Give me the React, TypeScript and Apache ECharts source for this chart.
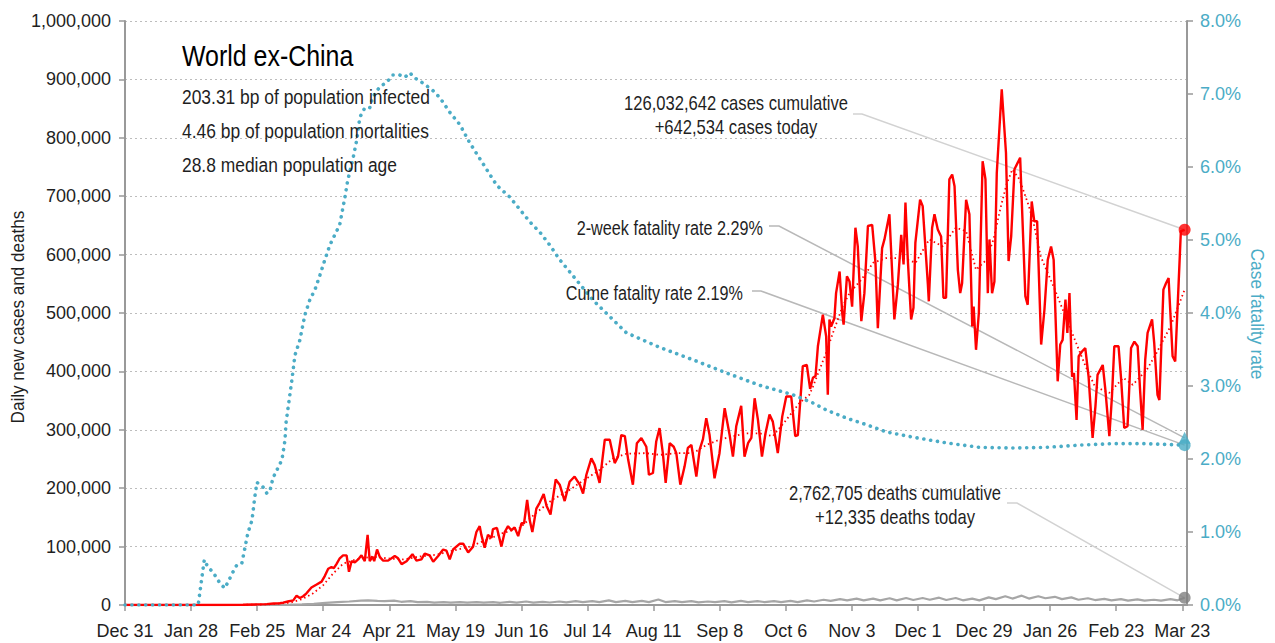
import React, { useEffect, useRef } from "react";
import * as echarts from "echarts";

// Day 0 = Dec 31, 2019
const xTickLabels = ["Dec 31", "Jan 28", "Feb 25", "Mar 24", "Apr 21", "May 19", "Jun 16", "Jul 14", "Aug 11", "Sep 8", "Oct 6", "Nov 3", "Dec 1", "Dec 29", "Jan 26", "Feb 23", "Mar 23"];
const xTickDays = [0, 28, 56, 84, 112, 140, 168, 196, 224, 252, 280, 308, 336, 364, 392, 420, 448];

// Daily new cases [day, cases]
const dailyCases: number[][] = [
  [0, 0], [20, 0], [40, 0], [50, 500], [56, 1000], [60, 1500], [63, 2500], [65.6, 3000], [67, 4000], [69, 6000],
  [71.3, 8000], [72.7, 16000], [74.1, 12000], [75.5, 15000], [76.9, 20000], [79, 30000], [81.2, 35000], [83.3, 40000],
  [84.7, 50000], [86.1, 62000], [87.5, 65000], [88.5, 63000], [89.6, 70000], [91, 80000], [92.4, 85000], [93.9, 85000],
  [94.9, 57000], [96, 75000], [97.4, 73000], [98.8, 78000], [100.2, 85000], [101.6, 75000], [102.8, 120000], [103.7, 75000],
  [104.9, 83000], [105.6, 75000], [106.8, 95000], [108, 82000], [109.4, 76000], [111.5, 76000], [114.3, 84000], [115.7, 80000],
  [117.2, 70000], [119.3, 75000], [121.8, 87000], [123.5, 76000], [125.6, 78000], [127, 88000], [129.1, 85000], [130.6, 74000],
  [132.7, 84000], [134.8, 95000], [136.2, 93000], [137.6, 78000], [139, 95000], [141.9, 105000], [143.3, 105000], [145.4, 90000],
  [147.5, 100000], [148.9, 125000], [150.3, 135000], [151, 120000], [152.4, 98000], [153.8, 120000], [155.3, 115000], [155.9, 130000],
  [157.6, 132000], [159.5, 100000], [160.9, 125000], [162.3, 135000], [163.7, 128000], [165.1, 133000], [166.6, 118000], [168, 140000],
  [169.1, 140000], [170.4, 180000], [171.5, 145000], [172.6, 125000], [174.3, 165000], [175.7, 175000], [177.4, 190000], [178.6, 170000],
  [180.3, 155000], [182.5, 215000], [184.2, 206000], [186.3, 178000], [188.4, 211000], [190.5, 220000], [192.7, 206000], [194.1, 191000],
  [195.5, 223000], [197.6, 251000], [199, 240000], [201.1, 209000], [203.3, 283000], [205.4, 283000], [207.5, 243000], [208.9, 254000],
  [210.3, 291000], [211.8, 289000], [213.2, 249000], [215.2, 206000], [216.9, 277000], [218.8, 286000], [220.9, 271000], [222, 223000],
  [223.7, 226000], [225.1, 280000], [226.5, 303000], [227.9, 260000], [229.1, 209000], [230.8, 277000], [232.5, 271000], [233.6, 260000],
  [235.3, 206000], [237.1, 237000], [238.5, 269000], [240, 274000], [242.1, 220000], [243.5, 266000], [244.9, 284000], [246.3, 320000],
  [247.7, 291000], [249.8, 217000], [251.9, 260000], [254.1, 337000], [256.2, 291000], [257.6, 254000], [259, 306000], [261.1, 341000],
  [262.5, 254000], [264, 277000], [265.4, 286000], [266.8, 354000], [268.2, 317000], [269.9, 254000], [271.4, 294000], [273.1, 326000],
  [274.5, 314000], [276.6, 260000], [278.5, 323000], [280.2, 357000], [282.3, 357000], [284, 289000], [285.1, 291000], [287.2, 409000],
  [288.9, 411000], [290.3, 370000], [291.5, 389000], [292.6, 392000], [293.6, 443000], [295.7, 497000], [297.1, 460000], [297.8, 360000],
  [298.5, 489000], [299.2, 477000], [300.6, 491000], [301.3, 534000], [302.8, 571000], [303.9, 500000], [304.5, 480000], [305.9, 563000],
  [307, 554000], [308.1, 511000], [309.5, 646000], [310.5, 614000], [312, 486000], [313.3, 534000], [314.8, 649000], [316.6, 651000],
  [318, 586000], [319, 474000], [320.8, 611000], [321.8, 626000], [323.9, 669000], [326, 489000], [327.5, 549000], [328.9, 634000],
  [329.9, 583000], [330.7, 689000], [331.7, 591000], [333.1, 489000], [334.1, 509000], [334.9, 620000], [336.9, 694000], [338, 683000],
  [340.2, 549000], [340.6, 520000], [342, 646000], [343, 669000], [344.4, 643000], [345.8, 631000], [346.8, 526000], [347.9, 526000],
  [349.3, 729000], [350.5, 737000], [351.5, 717000], [352.9, 574000], [353.9, 534000], [354.7, 551000], [356.4, 694000], [357.8, 669000],
  [359, 477000], [359.6, 511000], [360.6, 437000], [361.8, 500000], [363.4, 760000], [364.6, 729000], [365.6, 534000], [366.3, 626000],
  [367.4, 534000], [368.4, 554000], [369.4, 740000], [371.5, 883000], [373.3, 774000], [374.4, 589000], [375.5, 631000], [376.9, 746000],
  [379.3, 766000], [381.5, 529000], [382.5, 514000], [384.2, 691000], [385.3, 657000], [386.5, 657000], [388.2, 446000], [389.6, 506000],
  [391, 591000], [392.4, 614000], [393.5, 591000], [395.2, 383000], [396.3, 446000], [397.3, 454000], [398.5, 523000], [399.3, 466000],
  [400.2, 534000], [401.3, 391000], [402.1, 397000], [403.2, 317000], [404.1, 426000], [405.5, 434000], [406.9, 440000], [408.3, 391000],
  [410, 286000], [411.2, 340000], [412.1, 394000], [414.3, 411000], [415.4, 369000], [417.1, 289000], [418.2, 357000], [419.2, 443000],
  [421, 443000], [422.1, 386000], [423.4, 303000], [424.8, 306000], [426.3, 440000], [427.7, 451000], [429.1, 443000], [430.1, 369000],
  [431.2, 300000], [432.3, 420000], [433.3, 466000], [435.2, 489000], [436.1, 449000], [437.5, 360000], [438.3, 351000], [440, 540000],
  [441.1, 551000], [442.2, 560000], [443.9, 426000], [445, 417000], [446.4, 546000], [447.4, 640000], [449, 642534],
];

// 7-day average cases [day, cases]
const avgCases: number[][] = [
  [0, 0], [50, 300], [60, 1000], [70, 4000], [75, 10000], [79.7, 20000], [84, 34000], [88.2, 54000], [92.5, 71000], [98, 78000],
  [105, 83000], [110.7, 80000], [117.8, 78000], [124.8, 83000], [131.9, 86000], [138.9, 93000], [146, 100000], [153, 111000],
  [160, 123000], [167, 131000], [174, 157000], [181, 180000], [188, 196000], [192.7, 209000], [201, 231000], [206.8, 251000],
  [212.5, 259000], [221, 260000], [226.5, 257000], [233.6, 260000], [240.7, 260000], [246.3, 274000], [251.9, 283000], [257.6, 289000],
  [263.3, 294000], [268.9, 294000], [274.5, 289000], [280.2, 317000], [285.8, 346000], [290, 360000], [291.5, 374000], [294.3, 403000],
  [297, 431000], [300, 466000], [304, 511000], [307, 534000], [312, 557000], [317, 586000], [322.5, 594000], [329.5, 594000],
  [335, 586000], [340.8, 626000], [346.5, 614000], [352, 646000], [356.4, 640000], [360.6, 574000], [365, 591000], [368, 626000],
  [371, 680000], [373.5, 720000], [376, 746000], [379, 729000], [383, 683000], [385, 654000], [388, 597000], [394, 540000],
  [398.5, 494000], [403, 449000], [407, 409000], [411, 374000], [417, 363000], [423, 389000], [427, 377000], [433, 403000],
  [437, 431000], [443, 477000], [449, 540000],
];

// Daily deaths [day, deaths]
const dailyDeaths: number[][] = [
  [0, 0], [50, 0], [60, 100], [70, 500], [75, 1000], [80, 2000], [85, 3500], [90, 5000], [95, 6000], [100, 7500], [103, 8000],
  [107, 7000], [110, 6500], [114, 7500], [117, 5500], [121, 6500], [124, 5000], [128, 5500], [131, 4000], [135, 5000], [138, 4000],
  [142, 5000], [145, 4200], [149, 5000], [152, 4000], [156, 5000], [159, 3800], [163, 5500], [166, 4000], [170, 6000], [173, 4200],
  [177, 5500], [180, 4300], [184, 6000], [187, 4500], [191, 6500], [194, 5000], [198, 6500], [201, 5000], [205, 8000], [208, 5000],
  [212, 7000], [215, 5000], [219, 7000], [222, 5000], [226, 9500], [229, 5000], [233, 6500], [236, 5000], [240, 6500], [243, 4500],
  [247, 6000], [250, 5000], [254, 6500], [257, 4500], [261, 7000], [264, 5000], [268, 6500], [271, 5000], [275, 6500], [278, 5000],
  [282, 7000], [285, 5000], [289, 8000], [292, 6000], [296, 9000], [299, 7000], [303, 10000], [306, 8000], [310, 11000], [313, 8000],
  [317, 11000], [320, 8000], [324, 11500], [327, 8000], [331, 12000], [334, 8500], [338, 12000], [341, 9000], [345, 12500], [348, 8500],
  [352, 12000], [355, 8000], [359, 11000], [362, 8000], [366, 13000], [369, 10000], [373, 15000], [376, 11000], [380, 16000], [383, 11000],
  [387, 15000], [390, 11500], [394, 14000], [397, 10000], [401, 13000], [404, 9000], [408, 11500], [411, 8500], [415, 10500], [418, 8000],
  [422, 10000], [425, 7500], [429, 9500], [432, 7500], [436, 9000], [439, 7500], [443, 10000], [446, 8000], [449, 12335],
];

// Case fatality rate (%) [day, pct]
const fatalityRate: number[][] = [
  [0, 0], [31, 0], [33.6, 0.62], [35.1, 0.52], [37.3, 0.45], [40.2, 0.3], [42.3, 0.23], [44.5, 0.37], [45.7, 0.45], [47.4, 0.55],
  [49.5, 0.57], [50.8, 0.78], [52.1, 0.99], [53.8, 1.16], [55, 1.48], [55.9, 1.68], [58.4, 1.62], [60.1, 1.53], [61.4, 1.56],
  [62.7, 1.74], [64.4, 1.85], [66.5, 1.99], [67.8, 2.26], [68.2, 2.49], [70.7, 3.08], [72, 3.42], [74.1, 3.63], [76.2, 3.97],
  [78.3, 4.18], [80.5, 4.32], [82.6, 4.52], [84.7, 4.73], [86.8, 4.93], [91, 5.21], [93.2, 5.59], [94.4, 5.82], [96.5, 6.1],
  [98.2, 6.37], [99.5, 6.68], [101.6, 6.81], [103.7, 6.81], [105, 6.96], [108, 7.1], [110.9, 7.16], [113.5, 7.26], [116.4, 7.26],
  [118.6, 7.23], [120.7, 7.29], [122.8, 7.22], [126.2, 7.15], [130.4, 7.05], [133.4, 6.95], [137.6, 6.75], [141.9, 6.58],
  [146.1, 6.33], [151.6, 6.05], [157.5, 5.75], [163, 5.59], [168.5, 5.37], [171.5, 5.25], [175.7, 5.11], [180, 4.93], [184.2, 4.73],
  [198.2, 4.18], [212.4, 3.73], [226.5, 3.53], [240.6, 3.36], [254.8, 3.18], [268.9, 3.01], [283, 2.88], [291.3, 2.77], [297.3, 2.67],
  [305.7, 2.56], [314.2, 2.47], [322.7, 2.37], [333.7, 2.3], [348.1, 2.22], [362, 2.16], [376, 2.15], [390.4, 2.16], [404.4, 2.19],
  [418.4, 2.21], [432.8, 2.21], [449, 2.19],
];

const lastDay = 449;
const casesToday = 642534;
const deathsToday = 12335;
const twoWeekRate = 2.29;
const cumeRate = 2.19;

const titleText = "World ex-China";
const statLines = ["203.31 bp of population infected", "4.46 bp of population mortalities", "28.8 median population age"];
const casesNote = "126,032,642 cases cumulative\n+642,534 cases today";
const deathsNote = "2,762,705 deaths cumulative\n+12,335 deaths today";
const twoWeekNote = "2-week fatality rate 2.29%";
const cumeNote = "Cume fatality rate 2.19%";
const leftAxisName = "Daily new cases and deaths";
const rightAxisName = "Case fatality rate";

const FONT = "'Liberation Sans', Arial, sans-serif";
const TEAL = "#4bacc6";
const RED = "#ff0000";
const AXIS = "#999999";
const INK = "#1f1f1f";

export default function App() {
  const ref = useRef<HTMLDivElement>(null);
  useEffect(() => {
    if (!ref.current) return;
    const chart = echarts.init(ref.current, null, { renderer: "svg" });
    const option: any = {
      animation: false,
      backgroundColor: "#ffffff",
      textStyle: { fontFamily: FONT },
      grid: { left: 125, right: 88, top: 21, bottom: 38, containLabel: false, outerBoundsMode: "none" },
      xAxis: {
        type: "value",
        min: 0,
        max: 450,
        axisLine: { show: true, lineStyle: { color: AXIS, width: 2 } },
        axisTick: { show: true, length: 6, lineStyle: { color: AXIS, width: 1.5 }, customValues: xTickDays },
        axisLabel: {
          customValues: xTickDays,
          formatter: (v: number) => {
            const i = xTickDays.indexOf(Math.round(v));
            return i >= 0 ? xTickLabels[i] : "";
          },
          color: INK,
          fontSize: 18,
          fontFamily: FONT,
          margin: 17,
        },
        splitLine: { show: false },
      },
      yAxis: [
        {
          type: "value",
          min: 0,
          max: 1000000,
          interval: 100000,
          axisLine: { show: true, lineStyle: { color: AXIS, width: 2 } },
          axisTick: { show: true, length: 6, lineStyle: { color: AXIS, width: 1.5 } },
          axisLabel: {
            formatter: (v: number) => v.toLocaleString("en-US"),
            color: INK,
            fontSize: 18,
            fontFamily: FONT,
            margin: 14,
          },
          splitLine: { show: true, lineStyle: { color: "#bdbdbd", type: [2, 3], width: 1 } },
        },
        {
          type: "value",
          min: 0,
          max: 8,
          interval: 1,
          position: "right",
          axisLine: { show: true, lineStyle: { color: AXIS, width: 2 } },
          axisTick: { show: true, length: 6, lineStyle: { color: AXIS, width: 1.5 } },
          axisLabel: {
            formatter: (v: number) => v.toFixed(1) + "%",
            color: TEAL,
            fontSize: 18,
            fontFamily: FONT,
            margin: 13,
          },
          splitLine: { show: false },
        },
      ],
      series: [
        {
          name: "Deaths",
          type: "line",
          data: dailyDeaths,
          showSymbol: false,
          lineStyle: { color: "#a6a6a6", width: 2.2 },
          z: 2,
        },
        {
          name: "Cases avg",
          type: "line",
          data: avgCases,
          showSymbol: false,
          lineStyle: { color: RED, width: 1.8, type: [1.5, 3] },
          z: 3,
        },
        {
          name: "Cases",
          type: "line",
          data: dailyCases,
          showSymbol: false,
          lineStyle: { color: RED, width: 2.4 },
          z: 4,
        },
        {
          name: "Fatality rate",
          type: "line",
          yAxisIndex: 1,
          data: fatalityRate,
          showSymbol: false,
          lineStyle: { color: TEAL, width: 3.6, type: [0.1, 6.8], cap: "round" },
          z: 5,
        },
        {
          name: "end-left",
          type: "scatter",
          data: [
            { value: [lastDay, casesToday], itemStyle: { color: RED } },
            { value: [lastDay, deathsToday], itemStyle: { color: "#808080" } },
          ],
          symbol: "circle",
          symbolSize: 12,
          z: 6,
        },
        {
          name: "end-right",
          type: "scatter",
          yAxisIndex: 1,
          data: [
            { value: [lastDay, twoWeekRate], symbol: "triangle", symbolSize: 12 },
            { value: [lastDay, cumeRate], symbol: "circle", symbolSize: 12 },
          ],
          itemStyle: { color: TEAL },
          z: 6,
        },
      ],
    };
    chart.setOption(option);

    const pCases = chart.convertToPixel({ xAxisIndex: 0, yAxisIndex: 0 }, [lastDay, casesToday]) as number[];
    const pDeaths = chart.convertToPixel({ xAxisIndex: 0, yAxisIndex: 0 }, [lastDay, deathsToday]) as number[];
    const pTwo = chart.convertToPixel({ xAxisIndex: 0, yAxisIndex: 1 }, [lastDay, twoWeekRate]) as number[];
    const pCume = chart.convertToPixel({ xAxisIndex: 0, yAxisIndex: 1 }, [lastDay, cumeRate]) as number[];

    const txt = (x: number, y: number, text: string, size: number, align: string, sx: number, extra: any = {}, rot = 0) => ({
      type: "text",
      x,
      y,
      scaleX: sx,
      rotation: rot,
      z: 10,
      style: { text, fontSize: size, fontFamily: FONT, fill: INK, align, verticalAlign: "middle", ...extra },
    });
    const leader = (pts: number[][], color: string) => ({
      type: "polyline",
      z: 1,
      shape: { points: pts },
      style: { stroke: color, lineWidth: 1.5, fill: null },
    });

    chart.setOption({
      graphic: [
        txt(182, 56, titleText, 29, "left", 0.86, { fill: "#000" }),
        txt(182, 97, statLines[0], 21, "left", 0.83),
        txt(182, 131, statLines[1], 21, "left", 0.83),
        txt(182, 165, statLines[2], 21, "left", 0.83),
        txt(736, 115, casesNote, 20, "center", 0.83, { lineHeight: 24 }),
        txt(763, 228, twoWeekNote, 20, "right", 0.81),
        txt(743, 293, cumeNote, 20, "right", 0.81),
        txt(895, 505, deathsNote, 20, "center", 0.83, { lineHeight: 24 }),
        txt(18, 317, leftAxisName, 19, "center", 0.9, {}, Math.PI / 2),
        txt(1258, 314, rightAxisName, 19, "center", 0.92, { fill: TEAL }, -Math.PI / 2),
        leader([[853, 114], [862, 114], pCases], "#d2d2d2"),
        leader([[769, 226], [779, 226], pTwo], "#b8b8b8"),
        leader([[752, 291], [761, 291], pCume], "#b8b8b8"),
        leader([[1007, 503], [1017, 503], pDeaths], "#d2d2d2"),
      ],
    });

    return () => chart.dispose();
  }, []);
  return <div ref={ref} style={{ position: "absolute", left: 0, top: 0, width: 1275, height: 643 }} />;
}
